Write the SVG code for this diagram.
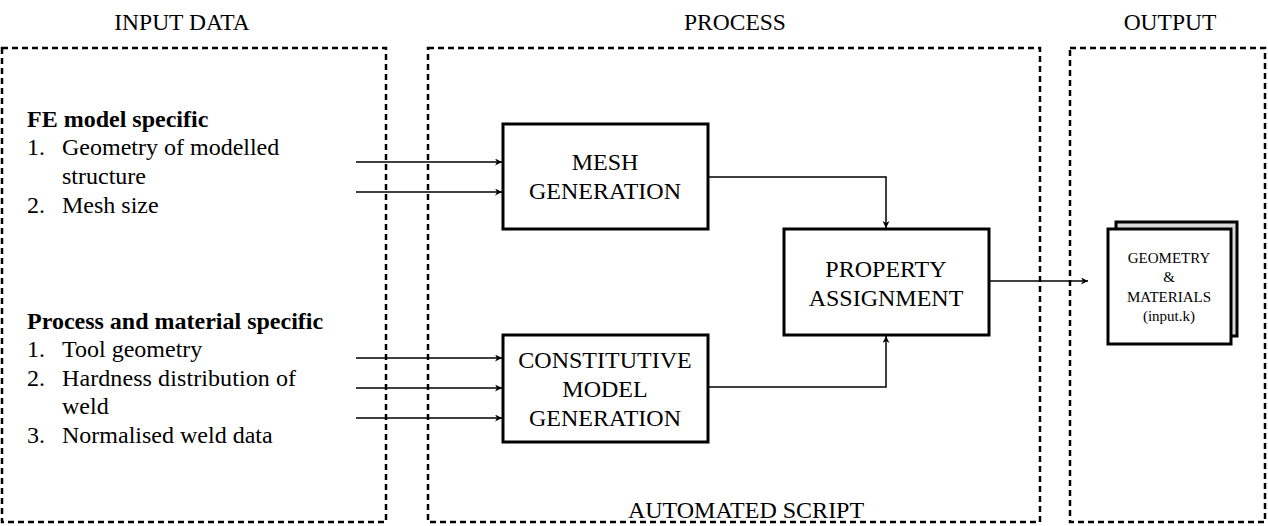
<svg xmlns="http://www.w3.org/2000/svg" width="1268" height="526" viewBox="0 0 1268 526">
<style>
text{font-family:"Liberation Serif","Times New Roman",serif;fill:#000}
.h{font-size:23.5px;text-anchor:middle}
.t{font-size:24px}
.b{font-size:24px;font-weight:bold}
.c{font-size:24px;text-anchor:middle}
.s{font-size:15px;text-anchor:middle}
.dash{fill:none;stroke:#000;stroke-width:2.5;stroke-dasharray:6,4}
.box{fill:#fff;stroke:#000;stroke-width:3}
.ln{fill:none;stroke:#000;stroke-width:1.5}
</style>
<defs>
<marker id="ar" viewBox="0 0 10 10" refX="10" refY="5" markerWidth="7" markerHeight="7" markerUnits="userSpaceOnUse" orient="auto">
<path d="M0,0 L10,5 L0,10 L3,5 z" fill="#000"/>
</marker>
</defs>
<rect width="1268" height="526" fill="#fff"/>
<g id="panels">
<rect class="dash" x="2" y="48" width="384" height="474"/>
<rect class="dash" x="428" y="48" width="612" height="474"/>
<rect class="dash" x="1070" y="48" width="195" height="474"/>
<text class="h" x="182" y="30">INPUT DATA</text>
<text class="h" x="735" y="30">PROCESS</text>
<text class="h" x="1170" y="30">OUTPUT</text>
<text class="c" x="746" y="518">AUTOMATED SCRIPT</text>
</g>
<g id="input-fe">
<text class="b" x="27" y="127">FE model specific</text>
<text class="t" x="27" y="155">1.</text><text class="t" x="62" y="155">Geometry of modelled</text>
<text class="t" x="62" y="184">structure</text>
<text class="t" x="27" y="213">2.</text><text class="t" x="62" y="213">Mesh size</text>
</g>
<g id="input-process">
<text class="b" x="27" y="329">Process and material specific</text>
<text class="t" x="27" y="357">1.</text><text class="t" x="62" y="357">Tool geometry</text>
<text class="t" x="27" y="386">2.</text><text class="t" x="62" y="386" textLength="234">Hardness distribution of</text>
<text class="t" x="62" y="414">weld</text>
<text class="t" x="27" y="443">3.</text><text class="t" x="62" y="443">Normalised weld data</text>
</g>
<g id="mesh">
<rect class="box" x="503" y="124" width="205" height="105"/>
<text class="c" x="605" y="170">MESH</text>
<text class="c" x="605" y="199">GENERATION</text>
</g>
<g id="constitutive">
<rect class="box" x="503" y="335" width="205" height="107"/>
<text class="c" x="605" y="368">CONSTITUTIVE</text>
<text class="c" x="605" y="397">MODEL</text>
<text class="c" x="605" y="426">GENERATION</text>
</g>
<g id="property">
<rect class="box" x="784" y="229" width="205" height="106"/>
<text class="c" x="886" y="277">PROPERTY</text>
<text class="c" x="886" y="306">ASSIGNMENT</text>
</g>
<g id="output">
<rect x="1116" y="222" width="121" height="114" fill="#d9d9d9" stroke="#000" stroke-width="3"/>
<rect class="box" x="1108" y="229" width="123" height="115"/>
<text class="s" x="1169" y="263">GEOMETRY</text>
<text class="s" x="1169" y="282">&amp;</text>
<text class="s" x="1169" y="302">MATERIALS</text>
<text class="s" x="1169" y="321">(input.k)</text>
</g>
<g id="connectors">
<line class="ln" x1="356" y1="162" x2="502" y2="162" marker-end="url(#ar)"/>
<line class="ln" x1="356" y1="192" x2="502" y2="192" marker-end="url(#ar)"/>
<line class="ln" x1="356" y1="358" x2="502" y2="358" marker-end="url(#ar)"/>
<line class="ln" x1="356" y1="388" x2="502" y2="388" marker-end="url(#ar)"/>
<line class="ln" x1="356" y1="418" x2="502" y2="418" marker-end="url(#ar)"/>
<polyline class="ln" points="708,177 886,177 886,228" marker-end="url(#ar)"/>
<polyline class="ln" points="708,387 886,387 886,336" marker-end="url(#ar)"/>
<line class="ln" x1="989" y1="281" x2="1088" y2="281" marker-end="url(#ar)"/>
</g>
</svg>
